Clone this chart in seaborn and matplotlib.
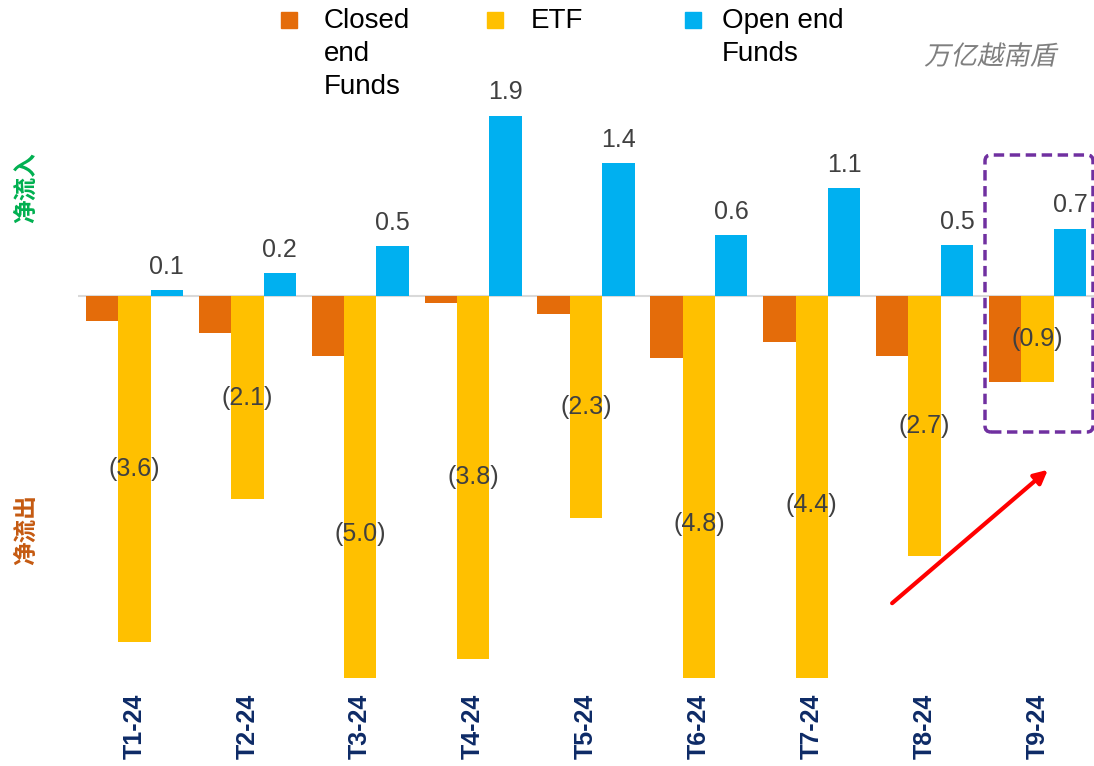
"""
Fund flows by month (VND trillion) - closed end, ETF and open end funds.
"""

import matplotlib.pyplot as plt
import seaborn as sns
import pandas as pd
from matplotlib.patches import FancyBboxPatch, Rectangle
from matplotlib.patheffects import AbstractPathEffect
from matplotlib.transforms import Affine2D

months = ["T1-24", "T2-24", "T3-24", "T4-24", "T5-24", "T6-24", "T7-24", "T8-24", "T9-24"]
closed_end = [-0.26, -0.39, -0.63, -0.07, -0.19, -0.65, -0.48, -0.63, -0.90]
etf = [-3.64, -2.14, -5.0, -3.82, -2.34, -4.8, -4.4, -2.74, -0.90]
open_end = [0.06, 0.24, 0.53, 1.9, 1.4, 0.64, 1.14, 0.54, 0.71]

series_names = ["Closed\nend\nFunds", "ETF", "Open end\nFunds"]
colors = ["#E46C0A", "#FFC000", "#00B0F0"]


class Oblique(AbstractPathEffect):
    # fake italic for the CJK font, which has no italic face
    def draw_path(self, renderer, gc, tpath, affine, rgbFace=None):
        renderer.draw_path(gc, tpath, Affine2D().skew_deg(12, 0) + affine, rgbFace)


df = pd.DataFrame({
    "month": months * 3,
    "value": closed_end + etf + open_end,
    "type": [n for n in series_names for _ in months],
})

sns.set_style("white")
plt.rcParams["font.family"] = ["Liberation Sans", "Noto Sans CJK SC", "DejaVu Sans"]

fig = plt.figure(figsize=(10.94, 7.66), dpi=100)
ax = fig.add_axes([78 / 1094, 88 / 766, 1016 / 1094, 578 / 766])

sns.barplot(data=df, x="month", y="value", hue="type", hue_order=series_names,
            palette=colors, saturation=1, width=0.86, linewidth=0,
            legend=False, ax=ax)

ax.axhline(0, color="#D9D9D9", lw=1.5, zorder=0.5)
ax.set_ylim(-382 / 95, 196 / 95)
ax.set_xlim(-0.5, 8.5)
sns.despine(ax=ax, left=True, bottom=True)
ax.set_yticks([])
ax.set_xlabel("")
ax.set_ylabel("")
ax.tick_params(axis="x", length=0, pad=11)
for lab in ax.get_xticklabels():
    lab.set_rotation(90)
    lab.set_fontsize(18)
    lab.set_fontweight("bold")
    lab.set_color("#0D2A66")
    lab.set_va("top")

# ETF labels sit at the middle of the full (unclipped) bar
for bar, v in zip(ax.containers[1], etf):
    ax.text(bar.get_x() + bar.get_width() / 2, v / 2, f"({abs(v):.1f})",
            ha="center", va="center", fontsize=18, color="#404040")
ax.bar_label(ax.containers[2], fmt="%.1f", padding=8, fontsize=18, color="#404040")

# legend
for x0, tx, name, c in zip([281, 487, 685], [324, 531, 722], series_names, colors):
    fig.patches.append(Rectangle((x0 / 1094, 1 - 28 / 766), 16 / 1094, 16 / 766,
                                 transform=fig.transFigure, color=c))
    fig.text(tx / 1094, 1 - 8 / 766, name, fontsize=20, va="top", ha="left",
             color="black", linespacing=1.36)

# watermark
fig.text(990 / 1094, 1 - 57 / 766, "万亿越南盾", fontsize=19, color="#7F7F7F",
         ha="center", va="center", family=["Noto Sans CJK SC"],
         path_effects=[Oblique()])

# inflow / outflow side labels
fig.text(26 / 1094, 1 - 188 / 766, "净流入", rotation=90, fontsize=17,
         fontweight="bold", color="#00B050", ha="center", va="center",
         family=["Noto Sans CJK SC"])
fig.text(26 / 1094, 1 - 530 / 766, "净流出", rotation=90, fontsize=17,
         fontweight="bold", color="#C55A11", ha="center", va="center",
         family=["Noto Sans CJK SC"])

# highlight box around the latest month
fig.patches.append(FancyBboxPatch((9.85, 3.34), 1.08, 2.77,
                                  boxstyle="round,pad=0,rounding_size=0.06",
                                  transform=fig.dpi_scale_trans, fill=False,
                                  edgecolor="#7030A0", lw=2.5,
                                  linestyle=(0, (3, 1.6))))

# red arrow
ax.annotate("", xy=(1050, 766 - 468), xytext=(890, 766 - 605),
            xycoords="figure pixels", textcoords="figure pixels",
            arrowprops=dict(arrowstyle="-|>", color="#FF0000", lw=3,
                            mutation_scale=20))

fig.savefig("out.png", dpi=100)
plt.close(fig)
